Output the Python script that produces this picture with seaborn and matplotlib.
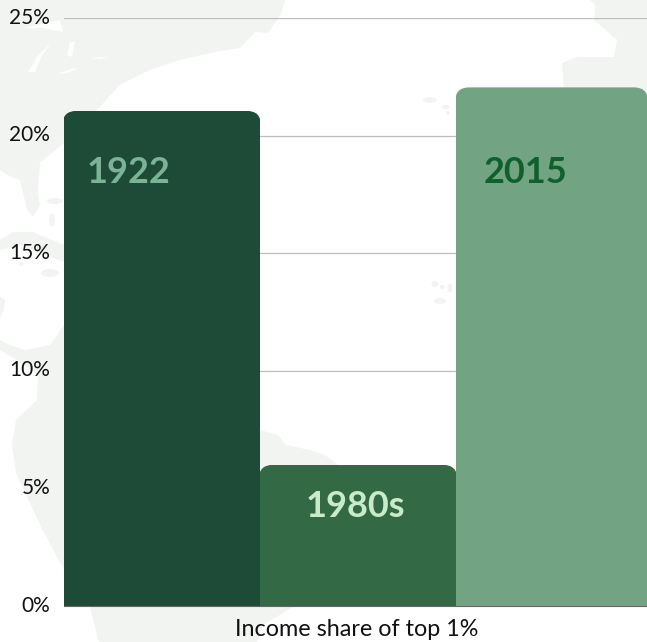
import matplotlib
matplotlib.use("Agg")
import matplotlib.pyplot as plt
import seaborn as sns
from matplotlib.patches import Polygon, Ellipse, FancyBboxPatch
from matplotlib.transforms import IdentityTransform, ScaledTranslation

# Income share of the top 1%, in percent
periods = ["1922", "1980s", "2015"]
shares = [21.05, 6.0, 22.05]
bar_colors = ["#1e4a38", "#336a45", "#72a483"]
label_colors = ["#7ab396", "#c8ebc8", "#10602e"]
y_ticks = [0, 5, 10, 15, 20, 25]
y_tick_labels = ["0%", "5%", "10%", "15%", "20%", "25%"]
axis_title = "Income share of top 1%"

W, H = 647, 642
DPI = 100
LAND = "#f2f4f2"

sns.set_theme(style="white")
plt.rcParams["font.family"] = ["Lato", "DejaVu Sans"]

fig = plt.figure(figsize=(W / DPI, H / DPI), dpi=DPI, facecolor="white")

# Faint Atlantic map behind the chart, outlined in canvas pixels
backdrop = fig.add_axes([0, 0, 1, 1], zorder=0)
backdrop.set_xlim(0, W)
backdrop.set_ylim(H, 0)
backdrop.axis("off")

land_shapes = [
    # North America
    [(0, 0), (285, 0), (281, 14), (268, 33), (255, 32), (240, 48), (215, 52), (180, 60),
     (150, 70), (120, 85), (97, 110), (64, 143), (40, 163), (38, 193), (40, 205),
     (33, 217), (27, 210), (20, 180), (7, 175), (0, 170)],
    # Cuba
    [(0, 240), (13, 232), (33, 232), (64, 245), (64, 262), (45, 255), (20, 245), (0, 250)],
    # Northern tip of Mexico's Pacific coast
    [(0, 297), (5, 300), (4, 310), (0, 318)],
    # Central and South America
    [(0, 340), (10, 345), (25, 350), (50, 345), (64, 325), (120, 370), (180, 400),
     (260, 430), (278, 435), (286, 445), (310, 450), (325, 455), (338, 465),
     (293, 607), (263, 625), (257, 642), (99, 642), (90, 608), (64, 570), (41, 527),
     (16, 473), (12, 444), (16, 420), (37, 400), (38, 375), (20, 362), (0, 350)],
    # Western Europe
    [(595, 5), (590, 0), (647, 0), (647, 90), (564, 90), (562, 63), (577, 57), (614, 57),
     (617, 40), (594, 20)],
]
for shape in land_shapes:
    backdrop.add_patch(Polygon(shape, closed=True, facecolor=LAND, edgecolor="none"))

# Great Lakes
lake_shapes = [
    [(25, 28), (60, 20), (63, 32), (43, 28)],
    [(28, 72), (37, 57), (52, 42), (42, 55), (35, 72)],
    [(67, 55), (70, 42), (75, 42), (72, 57)],
    [(57, 74), (72, 69), (78, 68), (68, 73)],
    [(90, 58), (108, 57), (100, 59)],
]
for shape in lake_shapes:
    backdrop.add_patch(Polygon(shape, closed=True, facecolor="white", edgecolor="none"))

# Small islands: Jamaica, Cayman, Bahamas, Azores, Canaries
islands = [(50, 273, 18, 8), (21, 264, 5, 4), (55, 201, 16, 6), (52, 220, 6, 13),
           (430, 100, 14, 6), (446, 107, 8, 4), (448, 113, 4, 4),
           (435, 284, 7, 6), (442, 287, 5, 4), (450, 288, 5, 9), (440, 301, 12, 6)]
for cx, cy, w, h in islands:
    backdrop.add_patch(Ellipse((cx, cy), w, h, facecolor=LAND, edgecolor="none"))

# Main chart
ax = fig.add_axes([63.5 / W, (H - 606) / H, 589 / W, 588 / H], zorder=1)
ax.patch.set_alpha(0)
sns.barplot(x=periods, y=shares, hue=periods, palette=bar_colors, width=1, saturation=1,
            legend=False, ax=ax, linewidth=0)
ax.set_xlim(-0.5, 2.5)
ax.set_ylim(0, 25)
ax.set_yticks(y_ticks, y_tick_labels)
ax.set_xticks([])
ax.set_xlabel(axis_title, fontsize=16.8, color="#111111", va="center")
ax.set_ylabel("")
ax.xaxis.set_label_coords(0.498, -0.0405)
ax.tick_params(axis="y", length=0, pad=9.6, labelsize=15, labelcolor="#111111")

# Tick labels sit 2.5 px above their gridlines
nudge = ScaledTranslation(0, 2.5 / DPI, fig.dpi_scale_trans)
for tick_label in ax.get_yticklabels():
    tick_label.set_transform(tick_label.get_transform() + nudge)

ax.set_axisbelow(True)
ax.grid(axis="y", color="#bcbcbc", linewidth=0.9)
for side in ("top", "left", "right"):
    ax.spines[side].set_visible(False)
ax.spines["bottom"].set_color("#666666")
ax.spines["bottom"].set_linewidth(0.8)

# Round only the top corners: each bar is clipped by a taller rounded box,
# which also ends at the canvas edge on the right. The box overhangs the bar
# sides by a pixel so neighbouring bars meet without a seam.
fig.canvas.draw()
for bar in ax.patches:
    (x0, y0), (x1, y1) = ax.transData.transform(
        [(bar.get_x(), 0), (bar.get_x() + bar.get_width(), bar.get_height())])
    x1 = min(x1, W)
    clip = FancyBboxPatch((x0 - 1, y0 - 40), x1 - x0 + 2, y1 - y0 + 40,
                          boxstyle="round,pad=0,rounding_size=14",
                          transform=IdentityTransform())
    bar.set_clip_path(clip)

# Period names inside the bars, offset from each bar's top centre (px)
label_offsets = [(-33, -62), (-3, -42), (-29, -85)]
px_to_pt = 72 / DPI
for bar, name, color, (dx, dy) in zip(ax.patches, periods, label_colors, label_offsets):
    ax.annotate(name, xy=(bar.get_x() + bar.get_width() / 2, bar.get_height()),
                xytext=(dx * px_to_pt, dy * px_to_pt), textcoords="offset points",
                ha="center", va="center", fontsize=26, fontweight="bold", color=color)

fig.savefig("out.png", dpi=DPI)
